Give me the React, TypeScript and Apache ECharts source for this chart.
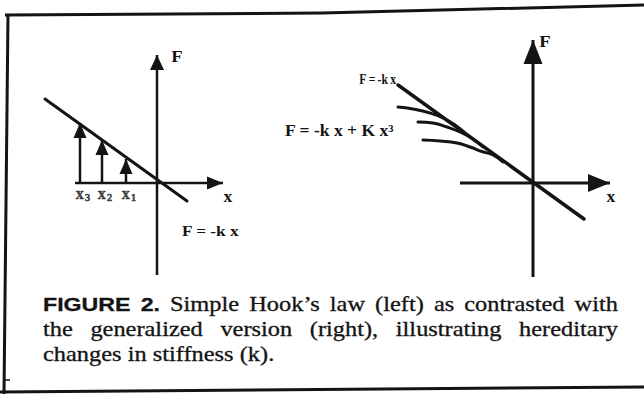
import React, { useEffect, useRef } from 'react';
import * as echarts from 'echarts';

const INK = '#141414';
const SERIF = '"Liberation Serif", "Times New Roman", serif';
const SANS = '"Liberation Sans", Arial, sans-serif';

// ---- left diagram: plain Hooke's law F = -k x ----
const leftLawX = [-11.2, 3.0];
const leftLawF = [8.4, -1.8];
const loadX = [-7.7, -5.5, -3.1];
const loadF = [6.0, 4.3, 2.4];
const loadIndex = ['3', '2', '1'];
const leftAxisX = [-8.2, 6.6]; // drawn x axis, arrow tip at the end
const leftAxisF = [-9.2, 12.8]; // drawn F axis, arrow tip at the end
const leftXRange = [-11.7, 7.3];
const leftFRange = [-9.7, 13.3];

// ---- right diagram: linear law and three cubic-softened responses ----
const rightLawX = [-13.5, 5.1];
const rightLawF = [9.8, -3.6];
const softAX = [-13.5, -12.0, -10.3, -9.0, -7.8, -6.8];
const softAF = [7.6, 7.4, 7.0, 6.5, 5.8, 5.0];
const softBX = [-11.5, -10.0, -8.6, -7.3, -6.1, -5.0];
const softBF = [6.1, 6.0, 5.6, 5.1, 4.45, 3.6];
const softCX = [-11.0, -9.3, -7.6, -6.3, -5.1, -4.0, -3.0];
const softCF = [4.3, 4.2, 4.0, 3.6, 3.15, 2.8, 2.1];
const rightAxisX = [-7.3, 7.7];
const rightAxisF = [-9.4, 14.3];
const rightXRange = [-14.3, 8.2];
const rightFRange = [-10.2, 15.3];

// ---- caption ----
const captionHead = ['FIGURE', '2.'];
const captionLines = [
  'Simple Hook\u2019s law (left) as contrasted with',
  'the generalized version (right), illustrating hereditary',
  'changes in stiffness (k).',
];

const zip = (xs: number[], ys: number[]) => xs.map((x, i) => [x, ys[i]]);

function hiddenAxis(gridIndex: number, range: number[]) {
  return { type: 'value', gridIndex, min: range[0], max: range[1], show: false };
}

function curve(gridIndex: number, data: number[][], width: number, smooth = false) {
  return {
    type: 'line',
    xAxisIndex: gridIndex,
    yAxisIndex: gridIndex,
    data,
    symbol: 'none',
    showSymbol: false,
    smooth,
    silent: true,
    lineStyle: { color: INK, width, cap: 'round' },
    z: 3,
  };
}

function axisLine(gridIndex: number, data: number[][], width: number) {
  return {
    type: 'line',
    xAxisIndex: gridIndex,
    yAxisIndex: gridIndex,
    data,
    symbol: 'none',
    showSymbol: false,
    silent: true,
    lineStyle: { color: INK, width, cap: 'butt' },
    z: 2,
  };
}

// triangular head whose tip sits on the data point
function head(gridIndex: number, point: number[], size: number[], rotate: number, offset: number[]) {
  return {
    type: 'scatter',
    xAxisIndex: gridIndex,
    yAxisIndex: gridIndex,
    data: [point],
    symbol: 'triangle',
    symbolSize: size,
    symbolRotate: rotate,
    symbolOffset: offset,
    silent: true,
    itemStyle: { color: INK, opacity: 1 },
    z: 4,
  };
}

function txt(x: number, y: number, text: string, font: string, align = 'center', sx = 1) {
  return {
    type: 'text',
    x,
    y,
    scaleX: sx,
    silent: true,
    style: { text, font, fill: INK, align, verticalAlign: 'middle' },
  };
}

// Justified caption laid out word by word inside a horizontally stretched group
function captionGraphic() {
  const ctx = document.createElement('canvas').getContext('2d') as CanvasRenderingContext2D;
  const measure = (t: string, f: string) => {
    ctx.font = f;
    return ctx.measureText(t).width;
  };
  const serif = `20px ${SERIF}`;
  const sans = `bold 19px ${SANS}`;
  const stretch = 1.22;
  const left = 43;
  const right = 618;
  const lineY = [304, 329, 354];
  const target = (right - left) / stretch;
  const children: any[] = [];
  captionLines.forEach((line, li) => {
    const words = line.split(' ').map((t) => ({ t, f: serif }));
    const all = li === 0 ? [...captionHead.map((t) => ({ t, f: sans })), ...words] : words;
    const widths = all.map((w) => measure(w.t, w.f));
    const total = widths.reduce((a, b) => a + b, 0);
    const justify = li < captionLines.length - 1;
    const gap = justify ? (target - total) / (all.length - 1) : measure(' ', serif);
    let x = 0;
    all.forEach((w, i) => {
      children.push({
        type: 'text',
        x,
        y: lineY[li],
        silent: true,
        style: {
          text: w.t,
          font: w.f,
          fill: INK,
          stroke: INK,
          lineWidth: 0.3,
          align: 'left',
          verticalAlign: 'middle',
        },
      });
      x += widths[i] + gap;
    });
  });
  return { type: 'group', x: left, y: 0, scaleX: stretch, children };
}

export default function App() {
  const ref = useRef<HTMLDivElement>(null);

  useEffect(() => {
    if (!ref.current) return;
    const chart = echarts.init(ref.current, null, { renderer: 'svg' });
    const option: any = {
      animation: false,
      backgroundColor: '#ffffff',
      grid: [
        { left: 40, top: 50, width: 190, height: 230, outerBoundsMode: 'none' },
        { left: 390, top: 30, width: 225, height: 255, outerBoundsMode: 'none' },
      ],
      xAxis: [hiddenAxis(0, leftXRange), hiddenAxis(1, rightXRange)],
      yAxis: [hiddenAxis(0, leftFRange), hiddenAxis(1, rightFRange)],
      series: [
        // left coordinate axes
        axisLine(0, [[leftAxisX[0], 0], [leftAxisX[1], 0]], 2.5),
        axisLine(0, [[0, leftAxisF[0]], [0, leftAxisF[1]]], 2.5),
        head(0, [leftAxisX[1], 0], [13, 16], -90, [-8, 0]),
        head(0, [0, leftAxisF[1]], [14, 15], 0, [0, 7.5]),
        curve(0, zip(leftLawX, leftLawF), 3),
        {
          type: 'bar',
          xAxisIndex: 0,
          yAxisIndex: 0,
          data: zip(loadX, loadF),
          barWidth: 2.5,
          silent: true,
          itemStyle: { color: INK },
        },
        {
          type: 'scatter',
          xAxisIndex: 0,
          yAxisIndex: 0,
          data: zip(loadX, loadF),
          symbol: 'triangle',
          symbolSize: [13, 15],
          symbolOffset: [0, 7.5],
          silent: true,
          itemStyle: { color: INK, opacity: 1 },
          z: 4,
        },
        {
          type: 'scatter',
          xAxisIndex: 0,
          yAxisIndex: 0,
          data: loadX.map((x) => [x, 0]),
          symbolSize: 1,
          silent: true,
          itemStyle: { color: 'rgba(0,0,0,0)' },
          label: {
            show: true,
            position: 'bottom',
            distance: 1,
            offset: [3, 0],
            color: INK,
            fontFamily: SERIF,
            fontWeight: 700,
            fontSize: 16,
            textBorderColor: INK,
            textBorderWidth: 0.4,
            formatter: (p: any) => `{v|x}{s|${loadIndex[p.dataIndex]}}`,
            rich: {
              v: { fontFamily: SERIF, fontWeight: 700, fontSize: 16, color: INK, textBorderColor: INK, textBorderWidth: 0.4 },
              s: { fontFamily: SERIF, fontWeight: 700, fontSize: 11, color: INK, padding: [7, 0, 0, 1] },
            },
          },
        },
        // right coordinate axes
        axisLine(1, [[rightAxisX[0], 0], [rightAxisX[1], 0]], 3),
        axisLine(1, [[0, rightAxisF[0]], [0, rightAxisF[1]]], 3),
        head(1, [rightAxisX[1], 0], [18, 22], -90, [-11, 0]),
        head(1, [0, rightAxisF[1]], [19, 24], 0, [0, 12]),
        curve(1, zip(rightLawX, rightLawF), 3.5),
        curve(1, zip(softAX, softAF), 3, true),
        curve(1, zip(softBX, softBF), 3, true),
        curve(1, zip(softCX, softCF), 3, true),
      ],
      graphic: [
        // frame
        { type: 'polyline', silent: true, shape: { points: [[5, 15], [322, 13], [644, 5]] }, style: { stroke: INK, lineWidth: 3, fill: 'none' } },
        { type: 'line', silent: true, shape: { x1: 8, y1: 14, x2: 4, y2: 394 }, style: { stroke: INK, lineWidth: 3 } },
        { type: 'line', silent: true, shape: { x1: 0, y1: 392, x2: 644, y2: 387 }, style: { stroke: INK, lineWidth: 3 } },
        { type: 'line', silent: true, shape: { x1: 4, y1: 380, x2: 10, y2: 380 }, style: { stroke: INK, lineWidth: 1.5 } },
        // axis names
        txt(177, 56, 'F', `bold 17px ${SERIF}`, 'center', 1.1),
        txt(228, 197, 'x', `bold 16px ${SERIF}`, 'center', 1.1),
        txt(545, 41, 'F', `bold 17px ${SERIF}`, 'center', 1.1),
        txt(611, 197, 'x', `bold 16px ${SERIF}`, 'center', 1.1),
        // equations
        txt(182, 231, 'F = -k x', `bold 15px ${SERIF}`, 'left', 1.15),
        txt(396, 79, 'F\u2009=\u2009-k\u2009x', `bold 14.5px ${SERIF}`, 'right', 0.8),
        txt(285, 131, 'F = -k x + K x\u00B3', `bold 16px ${SERIF}`, 'left', 1.1),
        captionGraphic(),
      ],
    };
    chart.setOption(option);
    return () => chart.dispose();
  }, []);

  return (
    <div
      ref={ref}
      style={{ position: 'fixed', left: 0, top: 0, width: 644, height: 394, background: '#fff' }}
    />
  );
}
